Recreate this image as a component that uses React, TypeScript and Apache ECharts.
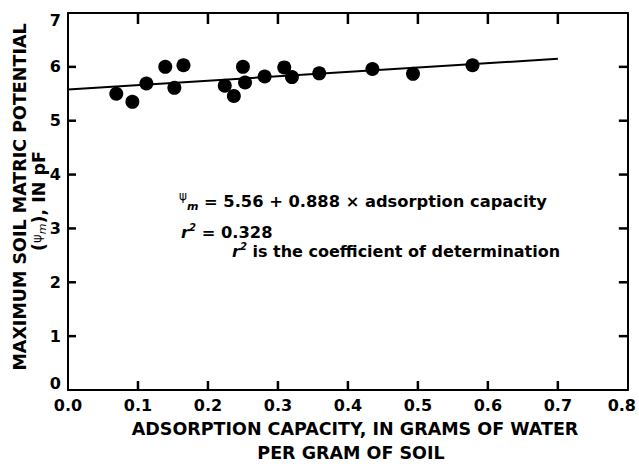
import React, { useEffect, useRef } from "react";
import * as echarts from "echarts";

// Observed points (adsorption capacity, g water / g soil) vs max soil matric potential (pF)
const adsorption = [0.069, 0.092, 0.112, 0.139, 0.152, 0.165, 0.224, 0.237, 0.25, 0.253, 0.281, 0.309, 0.32, 0.359, 0.435, 0.493, 0.578];
const potential = [5.5, 5.35, 5.69, 6.0, 5.61, 6.03, 5.65, 5.46, 6.0, 5.71, 5.82, 5.99, 5.81, 5.88, 5.96, 5.87, 6.03];

// Fitted regression line end points
const fitX = [0, 0.7];
const fitY = [5.58, 6.15];

// Axis ranges and interior tick positions
const X_MIN = 0;
const X_MAX = 0.8;
const Y_MIN = 0;
const Y_MAX = 7;
const xTickValues = [0.1, 0.2, 0.3, 0.4, 0.5, 0.6, 0.7];
const yTickValues = [1, 2, 3, 4, 5, 6];

const FONT = "DejaVu Sans";

export default function App() {
  const ref = useRef<HTMLDivElement>(null);

  useEffect(() => {
    if (!ref.current) return;
    const chart = echarts.init(ref.current, null, { renderer: "svg" });

    const labelBase = {
      color: "#000",
      fontFamily: FONT,
      fontWeight: "bold" as const,
      fontSize: 16,
    };
    const axisLine = { show: true, onZero: false, lineStyle: { color: "#000", width: 2 } };

    const xFrame = (position: string, showLabel: boolean) => ({
      type: "value",
      position,
      min: X_MIN,
      max: X_MAX,
      interval: 0.1,
      axisLine,
      axisTick: { show: false },
      splitLine: { show: false },
      axisLabel: showLabel
        ? {
            ...labelBase,
            margin: 7,
            formatter: (v: number) => (Math.abs(v - X_MAX) < 1e-9 ? "{r|0.8}" : v.toFixed(1)),
            rich: { r: { ...labelBase, padding: [0, 12, 0, 0] } },
          }
        : { show: false },
    });
    const yFrame = (position: string, showLabel: boolean) => ({
      type: "value",
      position,
      min: Y_MIN,
      max: Y_MAX,
      interval: 1,
      axisLine,
      axisTick: { show: false },
      splitLine: { show: false },
      axisLabel: showLabel
        ? {
            ...labelBase,
            margin: 7,
            formatter: (v: number) => (v === Y_MAX ? "{t|7}" : v === Y_MIN ? "{b|0}" : String(v)),
            rich: {
              t: { ...labelBase, padding: [15, 0, 0, 0] },
              b: { ...labelBase, padding: [0, 0, 13, 0] },
            },
          }
        : { show: false },
    });

    // Inward frame ticks as thin filled bars, placed through the grid's scales (api.coord)
    const W = 2.5;
    const tickSeries = (values: number[], vertical: boolean, edge: number, len: number) => ({
      type: "custom",
      xAxisIndex: 0,
      yAxisIndex: 0,
      clip: false,
      z: 10,
      data: values.map((v) => (vertical ? [v, (Y_MIN + Y_MAX) / 2] : [(X_MIN + X_MAX) / 2, v])),
      renderItem: (_p: any, api: any) => {
        if (vertical) {
          const c = api.coord([api.value(0), edge]);
          const y0 = len < 0 ? c[1] + len : c[1];
          return {
            type: "rect",
            shape: { x: c[0] - W / 2, y: y0, width: W, height: Math.abs(len) },
            style: { fill: "#000" },
          };
        }
        const c = api.coord([edge, api.value(1)]);
        const x0 = len < 0 ? c[0] + len : c[0];
        return {
          type: "rect",
          shape: { x: x0, y: c[1] - W / 2, width: Math.abs(len), height: W },
          style: { fill: "#000" },
        };
      },
    });

    const txt = (extra: any) => ({
      fill: "#000",
      fontFamily: FONT,
      fontWeight: "bold",
      align: "left",
      verticalAlign: "middle",
      textAlign: "left",
      textVerticalAlign: "middle",
      ...extra,
    });

    chart.setOption({
      animation: false,
      backgroundColor: "#fff",
      grid: { left: 68, right: 7, top: 13, bottom: 76 },
      xAxis: [xFrame("bottom", true), xFrame("top", false)],
      yAxis: [yFrame("left", true), yFrame("right", false)],
      series: [
        tickSeries(xTickValues, true, Y_MIN, -9),
        tickSeries(xTickValues, true, Y_MAX, 11),
        tickSeries(yTickValues, false, X_MIN, 8),
        tickSeries(yTickValues, false, X_MAX, -9),
        {
          type: "line",
          xAxisIndex: 0,
          yAxisIndex: 0,
          data: fitX.map((x, i) => [x, fitY[i]]),
          symbol: "none",
          lineStyle: { color: "#000", width: 2 },
          z: 2,
        },
        {
          type: "scatter",
          xAxisIndex: 0,
          yAxisIndex: 0,
          data: adsorption.map((x, i) => [x, potential[i]]),
          symbol: "circle",
          symbolSize: 14,
          itemStyle: { color: "#000", opacity: 1 },
          z: 3,
        },
      ],
      graphic: [
        {
          type: "text",
          x: 20,
          y: 197,
          rotation: Math.PI / 2,
          style: txt({ text: "MAXIMUM SOIL MATRIC POTENTIAL", fontSize: 17.5, align: "center", textAlign: "center" }),
        },
        {
          type: "text",
          x: 39,
          y: 201,
          rotation: Math.PI / 2,
          style: txt({
            text: "({psi|ψ}{m|m}), IN pF",
            fontSize: 17.5,
            align: "center",
            textAlign: "center",
            rich: {
              psi: { fontFamily: FONT, fontSize: 13, fill: "#000", verticalAlign: "top" },
              m: { fontFamily: FONT, fontSize: 11, fontStyle: "italic", fill: "#000", verticalAlign: "bottom" },
            },
          }),
        },
        {
          type: "text",
          x: 355,
          y: 429,
          style: txt({ text: "ADSORPTION CAPACITY, IN GRAMS OF WATER", fontSize: 17.5, align: "center", textAlign: "center" }),
        },
        {
          type: "text",
          x: 351,
          y: 452.5,
          style: txt({ text: "PER GRAM OF SOIL", fontSize: 17.5, align: "center", textAlign: "center" }),
        },
        {
          type: "text",
          x: 179,
          y: 201,
          style: txt({
            text: "{psi|ψ}{m|m} = 5.56 + 0.888 × adsorption capacity",
            fontSize: 16.3,
            lineHeight: 22,
            rich: {
              psi: { fontFamily: FONT, fontSize: 12, fill: "#000", verticalAlign: "top" },
              m: { fontFamily: FONT, fontSize: 11, fontStyle: "italic", fontWeight: "bold", fill: "#000", verticalAlign: "bottom" },
            },
          }),
        },
        {
          type: "text",
          x: 181,
          y: 232,
          style: txt({
            text: "{r|r}{s|2} = 0.328",
            fontSize: 16.3,
            lineHeight: 20,
            rich: {
              r: { fontFamily: FONT, fontSize: 16.3, fontStyle: "italic", fontWeight: "bold", fill: "#000" },
              s: { fontFamily: FONT, fontSize: 10, fontWeight: "bold", fontStyle: "italic", fill: "#000", verticalAlign: "top" },
            },
          }),
        },
        {
          type: "text",
          x: 232,
          y: 251,
          style: txt({
            text: "{r|r}{s|2} is the coefficient of determination",
            fontSize: 16,
            lineHeight: 20,
            rich: {
              r: { fontFamily: FONT, fontSize: 16, fontStyle: "italic", fontWeight: "bold", fill: "#000" },
              s: { fontFamily: FONT, fontSize: 10, fontWeight: "bold", fontStyle: "italic", fill: "#000", verticalAlign: "top" },
            },
          }),
        },
      ],
    });

    return () => chart.dispose();
  }, []);

  return (
    <div
      ref={ref}
      style={{ position: "fixed", left: 0, top: 0, width: 639, height: 466, background: "#fff" }}
    />
  );
}
